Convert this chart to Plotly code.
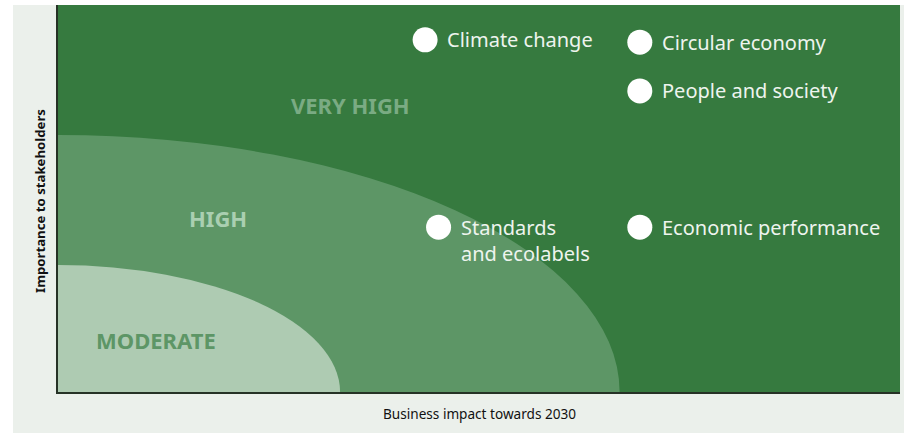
import plotly.graph_objects as go

# ---- data ----
topics = ["Climate change", "Circular economy", "People and society",
          "Standards<br>and ecolabels", "Economic performance"]
business_impact = [43.6, 69.1, 69.1, 45.2, 69.1]
stakeholder_importance = [91.0, 90.4, 77.8, 42.6, 42.6]

zones = ["VERY HIGH", "HIGH", "MODERATE"]
zone_label_x = [34.7, 19.0, 11.6]
zone_label_y = [74.2, 45.0, 13.4]
zone_radius_x = [None, 66.7, 33.5]   # quarter-ellipse limits of HIGH / MODERATE
zone_radius_y = [None, 66.4, 32.8]

x_title = "Business impact towards 2030"
y_title = "Importance to stakeholders"

# ---- styles ----
FONT = "Noto Sans"
C_PANEL = "#ebf0eb"
C_VHIGH = "#367a3f"
C_HIGH = "#5d9666"
C_MOD = "#aecbb2"
zone_text_colors = ["#7aab83", "#aacfb1", "#5d9666"]

W, H = 904, 433
ML, MR, MT, MB = 58, 4, 5, 41
PW, PH = W - ML - MR, H - MT - MB

def px_x(p):          # page x -> paper fraction
    return (p - ML) / PW

def px_y(p):          # page y -> paper fraction
    return 1 - (p - MT) / PH

fig = go.Figure()

fig.add_trace(go.Scatter(
    x=business_impact, y=stakeholder_importance, mode="markers",
    marker=dict(size=25, color="white", line=dict(width=0)),
    hoverinfo="text", hovertext=topics, showlegend=False, cliponaxis=False))

shapes = [
    # white strips left of / above the light panel
    dict(type="rect", xref="paper", yref="paper",
         x0=px_x(-2), x1=px_x(13), y0=px_y(H + 2), y1=px_y(-2),
         fillcolor="white", line=dict(width=0), layer="below"),
    dict(type="rect", xref="paper", yref="paper",
         x0=px_x(-2), x1=px_x(W + 2), y0=px_y(5), y1=px_y(-2),
         fillcolor="white", line=dict(width=0), layer="below"),
    # plot background
    dict(type="rect", xref="x", yref="y", x0=0, x1=100, y0=0, y1=100,
         fillcolor=C_VHIGH, line=dict(width=0), layer="below"),
]
for rx, ry, col in zip(zone_radius_x[1:], zone_radius_y[1:], [C_HIGH, C_MOD]):
    shapes.append(dict(type="circle", xref="x", yref="y",
                       x0=-rx, x1=rx, y0=-ry, y1=ry,
                       fillcolor=col, line=dict(width=0), layer="below"))

annotations = []
for t, x, y in zip(topics, business_impact, stakeholder_importance):
    annotations.append(dict(x=x, y=y, xref="x", yref="y", text=t,
                            showarrow=False, xanchor="left", yanchor="top",
                            align="left", xshift=20, yshift=15.5,
                            font=dict(family=FONT, size=20, color="#eef4ee")))
for z, x, y, c in zip(zones, zone_label_x, zone_label_y, zone_text_colors):
    annotations.append(dict(x=x, y=y, xref="x", yref="y", text="<b>" + z + "</b>",
                            showarrow=False, xanchor="center", yanchor="middle",
                            font=dict(family=FONT, size=22, color=c)))
annotations.append(dict(x=0.5, y=px_y(413), xref="paper", yref="paper",
                        text=x_title, showarrow=False, xanchor="center",
                        yanchor="middle",
                        font=dict(family=FONT, size=13.6, color="#111111")))
annotations.append(dict(x=px_x(40), y=px_y(201), xref="paper", yref="paper",
                        text="<b>" + y_title + "</b>", showarrow=False,
                        textangle=-90, xanchor="center", yanchor="middle",
                        font=dict(family=FONT, size=13.2, color="#111111")))

fig.update_layout(
    width=W, height=H,
    margin=dict(l=ML, r=MR, t=MT, b=MB, pad=0),
    paper_bgcolor=C_PANEL, plot_bgcolor=C_VHIGH,
    shapes=shapes, annotations=annotations,
    xaxis=dict(range=[0, 100], showgrid=False, zeroline=False,
               showticklabels=False, ticks="", showline=True,
               linecolor="#263226", linewidth=2, fixedrange=True),
    yaxis=dict(range=[0, 100], showgrid=False, zeroline=False,
               showticklabels=False, ticks="", showline=True,
               linecolor="#263226", linewidth=2, fixedrange=True),
    font=dict(family=FONT),
)

fig.write_html("out.html",
               config={"displayModeBar": False},
               post_script="document.body.style.margin='0';"
                           "document.body.style.overflow='hidden';")
